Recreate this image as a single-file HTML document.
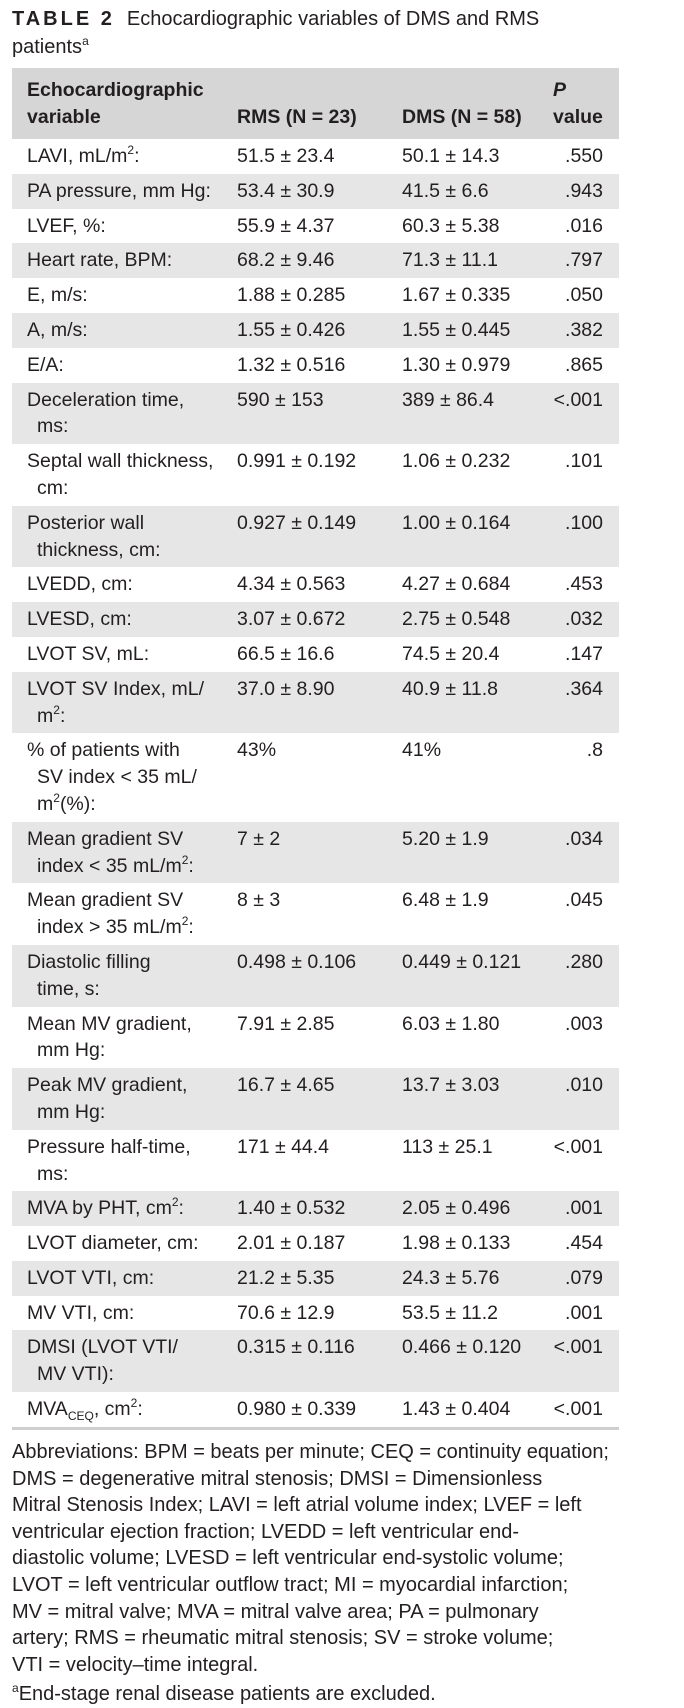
<!DOCTYPE html>
<html><head><meta charset="utf-8"><style>
*{margin:0;padding:0;box-sizing:border-box}
body{width:684px;height:1707px;background:#fff;color:#231f20;font-family:"Liberation Sans",sans-serif;font-size:19.5px;position:relative;overflow:hidden}
.title{position:absolute;left:12px;top:5px;line-height:28px;font-size:20px;width:680px;white-space:nowrap}
.title b{letter-spacing:3px;margin-right:12px}
sup{font-size:12px;line-height:0;vertical-align:8px}
sub{font-size:12px;line-height:0;vertical-align:-5px}
.tbl{position:absolute;left:12px;top:68px;width:607px}
.hd{background:#d6d6d6;height:71px;position:relative;font-weight:bold}
.row{position:relative;line-height:26.8px;padding:4px 0}
.c1{margin-left:15px;width:215px;padding-left:10px;text-indent:-10px;white-space:nowrap}
.c2{position:absolute;left:225px;top:4px}
.c3{position:absolute;left:390px;top:4px}
.c4{position:absolute;right:16px;top:4px}
.hd span{position:absolute;line-height:27px}
.bot{height:3px;background:#cfcfcf}
.foot{position:absolute;left:12px;top:1439px;line-height:26.6px;width:680px;font-size:20px;white-space:nowrap}
</style></head><body>
<div class="title"><b>TABLE 2</b>Echocardiographic variables of DMS and RMS<br>patients<sup>a</sup></div>
<div class="tbl">
<div class="hd"><span style="left:15px;top:9px">Echocardiographic<br>variable</span><span style="left:225px;top:36px">RMS (N = 23)</span><span style="left:390px;top:36px">DMS (N = 58)</span><span style="left:541px;top:9px"><i>P</i><br>value</span></div>
<div id="rows">
<div class="row" style="background:#fff"><div class="c1">LAVI, mL/m<sup>2</sup>:</div><div class="c2">51.5 ± 23.4</div><div class="c3">50.1 ± 14.3</div><div class="c4">.550</div></div>
<div class="row" style="background:#e6e6e6"><div class="c1">PA pressure, mm Hg:</div><div class="c2">53.4 ± 30.9</div><div class="c3">41.5 ± 6.6</div><div class="c4">.943</div></div>
<div class="row" style="background:#fff"><div class="c1">LVEF, %:</div><div class="c2">55.9 ± 4.37</div><div class="c3">60.3 ± 5.38</div><div class="c4">.016</div></div>
<div class="row" style="background:#e6e6e6"><div class="c1">Heart rate, BPM:</div><div class="c2">68.2 ± 9.46</div><div class="c3">71.3 ± 11.1</div><div class="c4">.797</div></div>
<div class="row" style="background:#fff"><div class="c1">E, m/s:</div><div class="c2">1.88 ± 0.285</div><div class="c3">1.67 ± 0.335</div><div class="c4">.050</div></div>
<div class="row" style="background:#e6e6e6"><div class="c1">A, m/s:</div><div class="c2">1.55 ± 0.426</div><div class="c3">1.55 ± 0.445</div><div class="c4">.382</div></div>
<div class="row" style="background:#fff"><div class="c1">E/A:</div><div class="c2">1.32 ± 0.516</div><div class="c3">1.30 ± 0.979</div><div class="c4">.865</div></div>
<div class="row" style="background:#e6e6e6"><div class="c1">Deceleration time,<br>ms:</div><div class="c2">590 ± 153</div><div class="c3">389 ± 86.4</div><div class="c4">&lt;.001</div></div>
<div class="row" style="background:#fff"><div class="c1">Septal wall thickness,<br>cm:</div><div class="c2">0.991 ± 0.192</div><div class="c3">1.06 ± 0.232</div><div class="c4">.101</div></div>
<div class="row" style="background:#e6e6e6"><div class="c1">Posterior wall<br>thickness, cm:</div><div class="c2">0.927 ± 0.149</div><div class="c3">1.00 ± 0.164</div><div class="c4">.100</div></div>
<div class="row" style="background:#fff"><div class="c1">LVEDD, cm:</div><div class="c2">4.34 ± 0.563</div><div class="c3">4.27 ± 0.684</div><div class="c4">.453</div></div>
<div class="row" style="background:#e6e6e6"><div class="c1">LVESD, cm:</div><div class="c2">3.07 ± 0.672</div><div class="c3">2.75 ± 0.548</div><div class="c4">.032</div></div>
<div class="row" style="background:#fff"><div class="c1">LVOT SV, mL:</div><div class="c2">66.5 ± 16.6</div><div class="c3">74.5 ± 20.4</div><div class="c4">.147</div></div>
<div class="row" style="background:#e6e6e6"><div class="c1">LVOT SV Index, mL/<br>m<sup>2</sup>:</div><div class="c2">37.0 ± 8.90</div><div class="c3">40.9 ± 11.8</div><div class="c4">.364</div></div>
<div class="row" style="background:#fff"><div class="c1">% of patients with<br>SV index &lt; 35 mL/<br>m<sup>2</sup>(%):</div><div class="c2">43%</div><div class="c3">41%</div><div class="c4">.8</div></div>
<div class="row" style="background:#e6e6e6"><div class="c1">Mean gradient SV<br>index &lt; 35 mL/m<sup>2</sup>:</div><div class="c2">7 ± 2</div><div class="c3">5.20 ± 1.9</div><div class="c4">.034</div></div>
<div class="row" style="background:#fff"><div class="c1">Mean gradient SV<br>index &gt; 35 mL/m<sup>2</sup>:</div><div class="c2">8 ± 3</div><div class="c3">6.48 ± 1.9</div><div class="c4">.045</div></div>
<div class="row" style="background:#e6e6e6"><div class="c1">Diastolic filling<br>time, s:</div><div class="c2">0.498 ± 0.106</div><div class="c3">0.449 ± 0.121</div><div class="c4">.280</div></div>
<div class="row" style="background:#fff"><div class="c1">Mean MV gradient,<br>mm Hg:</div><div class="c2">7.91 ± 2.85</div><div class="c3">6.03 ± 1.80</div><div class="c4">.003</div></div>
<div class="row" style="background:#e6e6e6"><div class="c1">Peak MV gradient,<br>mm Hg:</div><div class="c2">16.7 ± 4.65</div><div class="c3">13.7 ± 3.03</div><div class="c4">.010</div></div>
<div class="row" style="background:#fff"><div class="c1">Pressure half-time,<br>ms:</div><div class="c2">171 ± 44.4</div><div class="c3">113 ± 25.1</div><div class="c4">&lt;.001</div></div>
<div class="row" style="background:#e6e6e6"><div class="c1">MVA by PHT, cm<sup>2</sup>:</div><div class="c2">1.40 ± 0.532</div><div class="c3">2.05 ± 0.496</div><div class="c4">.001</div></div>
<div class="row" style="background:#fff"><div class="c1">LVOT diameter, cm:</div><div class="c2">2.01 ± 0.187</div><div class="c3">1.98 ± 0.133</div><div class="c4">.454</div></div>
<div class="row" style="background:#e6e6e6"><div class="c1">LVOT VTI, cm:</div><div class="c2">21.2 ± 5.35</div><div class="c3">24.3 ± 5.76</div><div class="c4">.079</div></div>
<div class="row" style="background:#fff"><div class="c1">MV VTI, cm:</div><div class="c2">70.6 ± 12.9</div><div class="c3">53.5 ± 11.2</div><div class="c4">.001</div></div>
<div class="row" style="background:#e6e6e6"><div class="c1">DMSI (LVOT VTI/<br>MV VTI):</div><div class="c2">0.315 ± 0.116</div><div class="c3">0.466 ± 0.120</div><div class="c4">&lt;.001</div></div>
<div class="row" style="background:#fff"><div class="c1">MVA<sub>CEQ</sub>, cm<sup>2</sup>:</div><div class="c2">0.980 ± 0.339</div><div class="c3">1.43 ± 0.404</div><div class="c4">&lt;.001</div></div>
</div>
<div class="bot"></div>
</div>
<div class="foot">Abbreviations: BPM = beats per minute; CEQ = continuity equation;<br>DMS = degenerative mitral stenosis; DMSI = Dimensionless<br>Mitral Stenosis Index; LAVI = left atrial volume index; LVEF = left<br>ventricular ejection fraction; LVEDD = left ventricular end-<br>diastolic volume; LVESD = left ventricular end-systolic volume;<br>LVOT = left ventricular outflow tract; MI = myocardial infarction;<br>MV = mitral valve; MVA = mitral valve area; PA = pulmonary<br>artery; RMS = rheumatic mitral stenosis; SV = stroke volume;<br>VTI = velocity–time integral.<br><span style="display:inline-block;margin-top:3px"><sup>a</sup>End-stage renal disease patients are excluded.</span></div>
</body></html>
